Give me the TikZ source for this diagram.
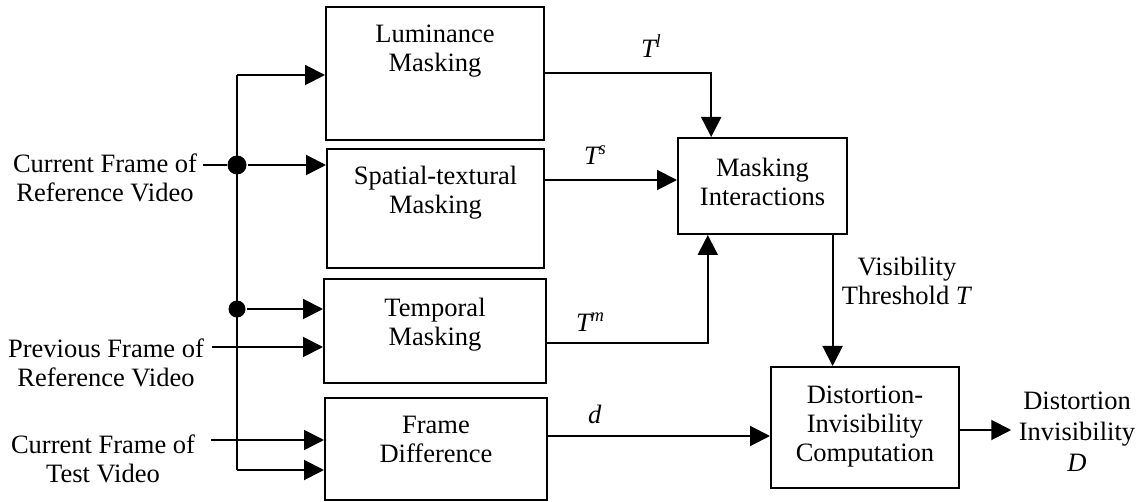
\documentclass[tikz,border=0pt]{standalone}
\usepackage{fontspec}
\setmainfont{Liberation Serif}
\usetikzlibrary{arrows.meta,calc}

\begin{document}
\begin{tikzpicture}[x=0.5pt,y=-0.5pt,line width=1pt,
  block/.style={draw, line width=1pt, inner sep=0pt},
  txt/.style={align=center, inner sep=0pt, anchor=north,
    font=\fontsize{13.25pt}{14.5pt}\selectfont},
  sym/.style={inner sep=0pt, anchor=base west,
    font=\fontsize{13.25pt}{14.5pt}\selectfont\itshape},
  arr/.style={-{Triangle[length=10pt,width=10pt]}},
  dot/.style={circle, fill, inner sep=0pt, minimum size=9.5pt}]
\useasboundingbox (0,0) rectangle (1141,502);

% processing blocks
\node[block, minimum width=109pt,  minimum height=66.5pt] (lum)  at (435,73.5)  {};
\node[block, minimum width=108.5pt,minimum height=59.5pt] (spat) at (435.5,208.5) {};
\node[block, minimum width=111pt,  minimum height=52pt]   (temp) at (435,331)   {};
\node[block, minimum width=111pt,  minimum height=51pt]   (fd)   at (436,449)   {};
\node[block, minimum width=84.5pt, minimum height=48pt]   (mi)   at (762.5,186) {};
\node[block, minimum width=94pt,   minimum height=60.5pt] (dic)  at (865,427.5) {};

% block captions
\node[txt] (lumT)  at (435,24)    {Luminance\\Masking};
\node[txt] (spatT) at (435.5,165) {Spatial-textural\\Masking};
\node[txt] (tempT) at (435,297)   {Temporal\\Masking};
\node[txt] (fdT)   at (436,415)   {Frame\\Difference};
\node[txt] (miT)   at (762.5,157) {Masking\\Interactions};
\node[txt] (dicT)  at (865,385)   {Distortion-\\Invisibility\\Computation};

% inputs
\node[txt] (src1) at (105,153) {Current Frame of\\Reference Video};
\node[txt] (src2) at (106,338) {Previous Frame of\\Reference Video};
\node[txt] (src3) at (103,434) {Current Frame of\\Test Video};

% output and threshold labels
\node[txt] (visT) at (907,256) {Visibility\\Threshold \textit{T}};
\node[txt, font=\fontsize{13.25pt}{15.5pt}\selectfont] (outT) at (1077,391)
  {Distortion\\Invisibility\\\textit{D}};

% signal symbols
\node[sym] (tl) at (640,58)  {T\textsuperscript{l}};
\node[sym] (ts) at (583,165) {T\textsuperscript{s}};
\node[sym] (tm) at (575,332) {T\textsuperscript{m}};
\node[sym] (dd) at (587,423) {d};

% distribution bus
\coordinate (busTop) at (237,75);
\coordinate (busBot) at (237,470);
\node[dot] (d1) at (237,165) {};
\node[dot, minimum size=8.5pt] (d2) at (237,309) {};
\coordinate (in1) at (203,165);
\coordinate (in2) at (212,347);
\coordinate (in3) at (211,440);

\draw (busTop) -- (busBot);
\draw[arr] (busTop) -- (busTop -| lum.west);
\draw[arr] (busBot) -- (busBot -| fd.west);
\draw (in1) -- (d1);
\draw[arr] (d1) -- (d1 -| spat.west);
\draw[arr] (d2) -- (d2 -| temp.west);
\draw[arr] (in2) -- (in2 -| temp.west);
\draw[arr] (in3) -- (in3 -| fd.west);

% thresholds into the interaction block
\coordinate (miL) at ($(mi.north west)!0.2!(mi.north east)$);
\coordinate (miM) at ($(mi.south west)!0.18!(mi.south east)$);
\coordinate (miV) at ($(mi.south west)!0.91!(mi.south east)$);
\draw[arr] (lum.east) -| (miL);
\draw[arr] (spat.east |- 0,180) -- (mi.west |- 0,180);
\draw[arr] (temp.east |- 0,343) -| (miM);
\draw[arr] (miV) -- (miV |- dic.north);

% distortion path and output
\draw[arr] (fd.east |- 0,436) -- (dic.west |- 0,436);
\draw[arr, shorten >=3.3pt] (dic.east |- 0,430) -- (outT.west |- 0,430);
\end{tikzpicture}
\end{document}
